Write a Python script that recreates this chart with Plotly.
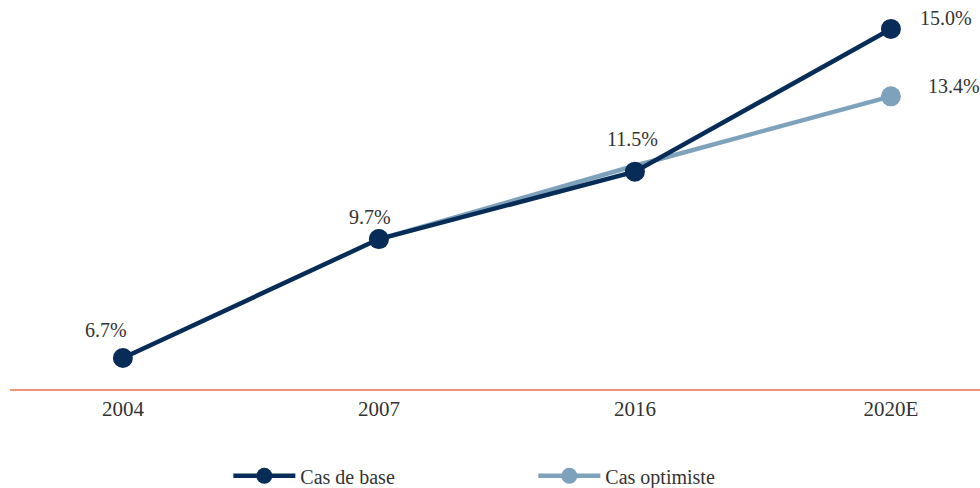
import plotly.graph_objects as go

categories = ["2004", "2007", "2016", "2020E"]
base_values = [6.7, 9.7, 11.4, 15.0]
opt_values = [None, 9.7, 11.55, 13.3]
opt_marker_shown = [False, True, False, True]
label_texts = ["6.7%", "9.7%", "11.5%", "15.0%", "13.4%"]
label_anchor_idx = [0, 1, 2, 3, 3]
label_anchor_val = [6.7, 9.7, 11.4, 15.0, 13.3]

DARK = "#072C57"
LIGHT = "#7FA2BC"
FONT = "Liberation Serif"
TXT = "#333333"

opt_marker_values = [v if s else None for v, s in zip(opt_values, opt_marker_shown)]

fig = go.Figure()
fig.add_trace(go.Scatter(
    x=categories, y=opt_values, name="Cas optimiste", mode="lines",
    line=dict(color=LIGHT, width=4.5), showlegend=False,
    connectgaps=False, cliponaxis=False))
fig.add_trace(go.Scatter(
    x=categories, y=opt_marker_values, name="Cas optimiste", mode="lines+markers",
    line=dict(color=LIGHT, width=4.5), marker=dict(size=20, color=LIGHT),
    connectgaps=False, cliponaxis=False))
fig.add_trace(go.Scatter(
    x=categories, y=base_values, name="Cas de base", mode="lines+markers",
    line=dict(color=DARK, width=4.5), marker=dict(size=20, color=DARK),
    cliponaxis=False))

shifts = [(-17, 28), (-9, 22), (-2, 33), (55, 11), (63, 10)]
for t, c, v, (dx, dy) in zip(label_texts, label_anchor_idx, label_anchor_val, shifts):
    fig.add_annotation(x=c, y=v, xref="x", yref="y", text=t, showarrow=False,
                       xshift=dx, yshift=dy,
                       font=dict(family=FONT, size=20, color=TXT))

fig.update_layout(
    width=980, height=488,
    margin=dict(l=10, r=0, t=0, b=99, autoexpand=False),
    paper_bgcolor="white", plot_bgcolor="white",
    font=dict(family=FONT, size=20, color=TXT),
    hovermode=False,
    showlegend=True,
    legend=dict(orientation="h", xref="container", yref="container",
                x=0.233, y=0.025, xanchor="left", yanchor="middle",
                traceorder="reversed", itemwidth=62,
                entrywidth=228, entrywidthmode="pixels",
                font=dict(family=FONT, size=20, color=TXT)),
    xaxis=dict(type="category", range=[-0.441, 3.348], showgrid=False,
               showline=True, linecolor="#EE9478", linewidth=1.5,
               ticks="", tickfont=dict(family=FONT, size=21, color=TXT),
               zeroline=False, fixedrange=True),
    yaxis=dict(range=[5.918, 15.73], showgrid=False, showticklabels=False,
               zeroline=False, showline=False, fixedrange=True),
)

fig.write_html("out.html",
               config={"displayModeBar": False, "staticPlot": True},
               post_script="document.body.style.margin='0px';document.body.style.padding='0px';")
